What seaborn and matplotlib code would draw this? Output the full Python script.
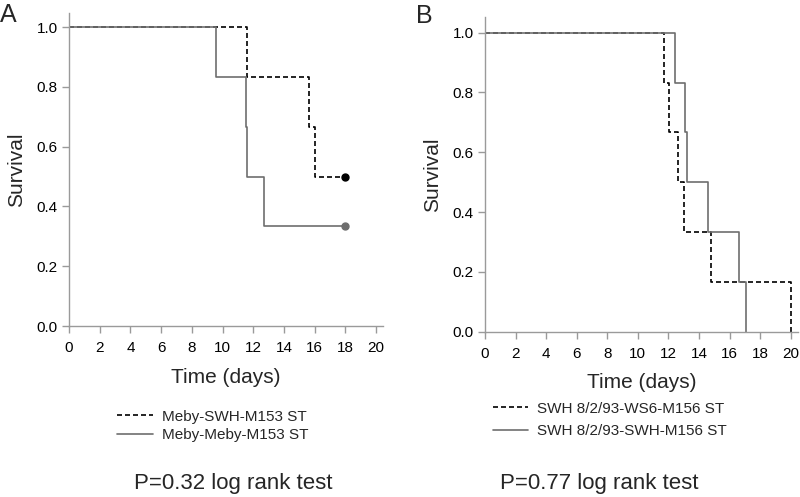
import matplotlib
matplotlib.use("Agg")
import matplotlib.pyplot as plt
import seaborn as sns

# Panel A: Kaplan-Meier steps (time in days, survival fraction)
a_swh_time = [0, 11.6, 15.6, 16.0, 18.0]
a_swh_surv = [1.0, 0.833, 0.667, 0.5, 0.5]
a_meby_time = [0, 9.6, 11.5, 11.6, 12.7, 18.0]
a_meby_surv = [1.0, 0.833, 0.667, 0.5, 0.333, 0.333]
a_labels = ["Meby-SWH-M153 ST", "Meby-Meby-M153 ST"]
a_pvalue = "P=0.32 log rank test"

# Panel B
b_ws6_time = [0, 11.7, 12.05, 12.6, 13.0, 14.8, 20.0]
b_ws6_surv = [1.0, 0.833, 0.667, 0.5, 0.333, 0.167, 0.0]
b_swh_time = [0, 12.45, 13.1, 13.2, 14.6, 16.6, 17.05]
b_swh_surv = [1.0, 0.833, 0.667, 0.5, 0.333, 0.167, 0.0]
b_labels = ["SWH 8/2/93-WS6-M156 ST", "SWH 8/2/93-SWH-M156 ST"]
b_pvalue = "P=0.77 log rank test"

xticks = list(range(0, 21, 2))
yticks = [0.0, 0.2, 0.4, 0.6, 0.8, 1.0]

sns.set_style("ticks")
plt.rcParams["font.family"] = ["Liberation Sans", "DejaVu Sans"]

W, H = 800, 497
fig = plt.figure(figsize=(8, 4.97), dpi=100)

spine_col = "#9a9a9a"
solid_col = "#6e6e6e"
dash = (0, (3, 1.8))


def px_axes(left, top, right, bottom):
    return fig.add_axes([left / W, 1 - bottom / H, (right - left) / W, (bottom - top) / H])


def style_axes(ax, xmax, ymax):
    ax.set_xlim(0, xmax)
    ax.set_ylim(0, ymax)
    ax.set_xticks(xticks)
    ax.set_yticks(yticks)
    ax.set_yticklabels([f"{v:.1f}" for v in yticks])
    for s in ["top", "right"]:
        ax.spines[s].set_visible(False)
    for s in ["left", "bottom"]:
        ax.spines[s].set_color(spine_col)
        ax.spines[s].set_linewidth(1.0)
    ax.tick_params(direction="out", length=5, width=1, color=spine_col,
                   labelsize=11, labelcolor="black")
    ax.tick_params(axis="x", pad=6)
    ax.tick_params(axis="y", pad=3)
    ax.set_xlabel("Time (days)", fontsize=15, labelpad=9)
    ax.set_ylabel("Survival", fontsize=15, labelpad=8)


# ---- Panel A
axA = px_axes(69, 13, 383, 326)
sns.lineplot(x=a_swh_time, y=a_swh_surv, ax=axA, drawstyle="steps-post", estimator=None,
             color="black", linestyle=dash, linewidth=1.2, label=a_labels[0])
sns.lineplot(x=a_meby_time, y=a_meby_surv, ax=axA, drawstyle="steps-post", estimator=None,
             color=solid_col, linewidth=1.2, label=a_labels[1])
axA.plot(a_swh_time[-1], a_swh_surv[-1], "o", color="black", markersize=5, clip_on=False)
axA.plot(a_meby_time[-1], a_meby_surv[-1], "o", color=solid_col, markersize=5, clip_on=False)
style_axes(axA, 20.45, 1.047)
axA.legend(loc="center left", bbox_to_anchor=(117 / W, 1 - 426 / H), bbox_transform=fig.transFigure,
           frameon=False, fontsize=11, handlelength=2.35, handletextpad=0.6, labelspacing=0.32,
           borderpad=0, borderaxespad=0)
fig.text(0 / W, 1 - 22 / H, "A", fontsize=18)
fig.text(233 / W, 1 - 484 / H, a_pvalue, fontsize=16, ha="center", va="center")

# ---- Panel B
axB = px_axes(485, 17, 798, 331.7)
sns.lineplot(x=b_ws6_time, y=b_ws6_surv, ax=axB, drawstyle="steps-post", estimator=None,
             color="black", linestyle=dash, linewidth=1.2, label=b_labels[0])
sns.lineplot(x=b_swh_time, y=b_swh_surv, ax=axB, drawstyle="steps-post", estimator=None,
             color=solid_col, linewidth=1.2, label=b_labels[1])
style_axes(axB, 20.48, 1.052)
axB.legend(loc="center left", bbox_to_anchor=(493 / W, 1 - 420 / H), bbox_transform=fig.transFigure,
           frameon=False, fontsize=11, handlelength=2.3, handletextpad=0.6, labelspacing=0.55,
           borderpad=0, borderaxespad=0)
fig.text(416 / W, 1 - 23 / H, "B", fontsize=18)
fig.text(599 / W, 1 - 483 / H, b_pvalue, fontsize=16, ha="center", va="center")

fig.savefig("out.png", dpi=100)
